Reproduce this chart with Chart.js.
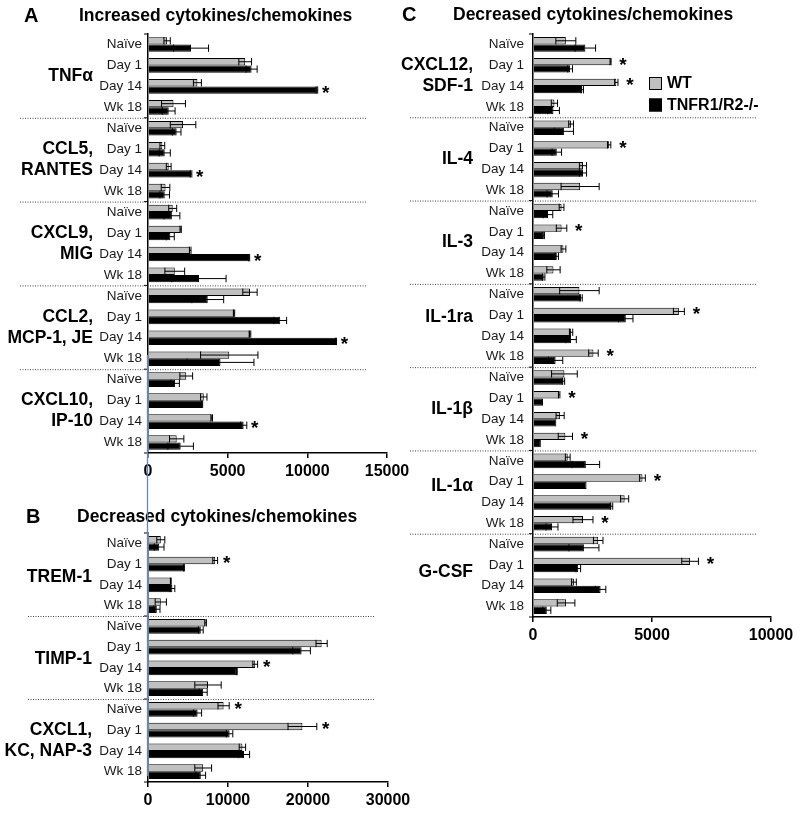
<!DOCTYPE html>
<html><head><meta charset="utf-8">
<script src="https://cdn.jsdelivr.net/npm/chart.js@4.4.1/dist/chart.umd.min.js"></script>
<style>
html,body{margin:0;padding:0;background:#fff;}
#wrap{position:relative;width:800px;height:813px;overflow:hidden;background:#fff;}
canvas{position:absolute;left:0;top:0;}
</style></head><body>
<div id="wrap">
<canvas id="cA" width="800" height="813" style="width:800px;height:813px"></canvas>
<canvas id="cB" width="800" height="813" style="width:800px;height:813px"></canvas>
<canvas id="cC" width="800" height="813" style="width:800px;height:813px"></canvas>
</div>
<script>
// ---------- data ----------
const rowLabels = ["Naïve", "Day 1", "Day 14", "Wk 18"];
const seriesNames = ["WT", "TNFR1/R2-/-"];

// Panel A: increased cytokines/chemokines
const groupsA = ["TNFα", "CCL5,\nRANTES", "CXCL9,\nMIG", "CCL2,\nMCP-1, JE", "CXCL10,\nIP-10"];
const wtA    = [1200, 6100, 3100, 1600,  2200, 900, 1300, 1100,  1550, 2050, 2650, 1680,  6400, 5400, 6400, 5100,  2400, 3500, 4000, 1800];
const wtErrA = [200, 400, 250, 750,      800, 150, 150, 270,     250, 40, 50, 620,        450, 40, 50, 1800,       400, 200, 50, 450];
const koA    = [2700, 6500, 10600, 1300, 1800, 1050, 2700, 1050, 1500, 1400, 6350, 3200,  3750, 8300, 11800, 4550, 1700, 3400, 6000, 2050];
const koErrA = [1100, 350, 50, 400,      270, 350, 50, 300,      500, 250, 30, 1700,      1000, 400, 30, 2100,     270, 30, 200, 800];
const starsA = [0,0,1,0, 0,0,1,0, 0,0,1,0, 0,0,1,0, 0,0,1,0];
const ticksA = [0, 5000, 10000, 15000];

// Panel B: decreased cytokines/chemokines
const groupsB = ["TREM-1", "TIMP-1", "CXCL1,\nKC, NAP-3"];
const wtB    = [1600, 8400, 2850, 1600,  7200, 21700, 13400, 7500,  9450, 19300, 11800, 6900];
const wtErrB = [500, 300, 50, 700,       100, 700, 300, 1650,       700, 1800, 400, 1050];
const koB    = [1400, 4500, 3050, 1100,  6600, 19200, 11100, 6900,  6200, 10200, 12000, 6600];
const koErrB = [600, 50, 300, 400,       300, 1100, 50, 500,        500, 400, 700, 600];
const starsB = [0,1,0,0, 0,0,1,0, 1,1,0,0];
const ticksB = [0, 10000, 20000, 30000];

// Panel C: decreased cytokines/chemokines
const groupsC = ["CXCL12,\nSDF-1", "IL-4", "IL-3", "IL-1ra", "IL-1β", "IL-1α", "G-CSF"];
const wtC    = [1380, 3260, 3500, 900,  1600, 3200, 2100, 1980,  1200, 1200, 1280, 860,  1950, 6130, 1600, 2540,  1320, 1100, 1140, 1360,  1460, 4600, 3850, 2100,  2740, 6600, 1720, 1390];
const wtErrC = [420, 20, 70, 130,       100, 70, 150, 800,       100, 220, 100, 280,     830, 230, 70, 200,       540, 30, 170, 300,       100, 120, 170, 420,      200, 350, 100, 370];
const koC    = [2200, 1560, 2070, 860,  1300, 1000, 2100, 830,   630, 450, 1000, 450,    2020, 3900, 1600, 950,   1280, 420, 980, 330,     2220, 2250, 3300, 800,   2140, 1900, 2840, 580];
const koErrC = [430, 100, 50, 250,      400, 200, 150, 240,      200, 30, 70, 50,        50, 300, 220, 300,       50, 0, 0, 0,             580, 0, 50, 250,         630, 100, 220, 170];
const starsC = [0,1,1,0, 0,1,0,0, 0,1,0,0, 0,1,0,1, 0,1,0,1, 0,1,0,1, 0,1,0,0];
const ticksC = [0, 5000, 10000];

// ---------- drawing ----------
const FAM = "'Liberation Sans', Arial, Helvetica, sans-serif";
Chart.defaults.font.family = FAM;
const GRAY = '#c0c0c0';

function makePanel(p) {
  const labels = [];
  p.groups.forEach(() => rowLabels.forEach(r => labels.push(r)));
  const nRows = labels.length;
  const area = p.area;

  const deco = {
    id: 'deco' + p.id,
    afterDatasetsDraw(chart) {
      const ctx = chart.ctx, xs = chart.scales.x;
      ctx.save();
      ctx.strokeStyle = '#000'; ctx.lineWidth = 1;
      chart.data.datasets.forEach((ds, di) => {
        const meta = chart.getDatasetMeta(di);
        meta.data.forEach((bar, i) => {
          const v = ds.data[i], e = ds.err[i];
          if (!e) return;
          const x1 = xs.getPixelForValue(v - e), x2 = xs.getPixelForValue(v + e);
          const y = bar.y, h = bar.height / 2;
          ctx.beginPath();
          ctx.moveTo(x1, y); ctx.lineTo(x2, y);
          ctx.moveTo(x1, y - h); ctx.lineTo(x1, y + h);
          ctx.moveTo(x2, y - h); ctx.lineTo(x2, y + h);
          ctx.stroke();
        });
      });
      ctx.restore();
    },
    afterDraw(chart) {
      const ctx = chart.ctx, xs = chart.scales.x, ca = chart.chartArea;
      const band = (ca.bottom - ca.top) / nRows;
      ctx.save();
      // separators + small axis ticks
      ctx.strokeStyle = '#000'; ctx.lineWidth = 1;
      for (let k = 0; k <= p.groups.length; k++) {
        const y = ca.top + 4 * k * band;
        ctx.setLineDash([]);
        ctx.beginPath(); ctx.moveTo(ca.left - 4, y); ctx.lineTo(ca.left, y); ctx.stroke();
        if (k > 0 && k < p.groups.length) {
          ctx.save();
          ctx.strokeStyle = '#444';
          ctx.setLineDash([1, 1.5]);
          ctx.beginPath(); ctx.moveTo(p.sepX[0], y + 0.5); ctx.lineTo(p.sepX[1], y + 0.5); ctx.stroke();
          ctx.restore();
        }
      }
      // group labels
      ctx.fillStyle = '#000';
      ctx.font = 'bold 17.5px ' + FAM;
      ctx.textAlign = 'right'; ctx.textBaseline = 'middle';
      p.groups.forEach((g, k) => {
        const cy = ca.top + (4 * k + 2) * band + (p.labelShift[k] || 0);
        const lines = g.split('\n');
        if (lines.length === 1) ctx.fillText(lines[0], p.groupX, cy);
        else {
          ctx.fillText(lines[0], p.groupX, cy - band / 2);
          ctx.fillText(lines[1], p.groupX, cy + band / 2);
        }
      });
      // stars
      ctx.font = 'bold 19px ' + FAM;
      ctx.textAlign = 'center'; ctx.textBaseline = 'alphabetic';
      p.stars.forEach((s, i) => {
        if (!s) return;
        const endW = p.wt[i] + p.wtErr[i], endK = p.ko[i] + p.koErr[i];
        const di = endW >= endK ? 0 : 1;
        const bar = chart.getDatasetMeta(di).data[i];
        const x = xs.getPixelForValue(Math.max(endW, endK)) + p.starGap;
        ctx.fillText('*', x, bar.y + 9);
      });
      // titles
      ctx.textAlign = 'left'; ctx.textBaseline = 'middle';
      ctx.font = 'bold 20px ' + FAM;
      ctx.fillText(p.letter, p.letterX, p.titleY);
      ctx.font = 'bold 17.5px ' + FAM;
      ctx.fillText(p.title, p.titleX, p.titleY);
      // legend
      if (p.legend) {
        const L = p.legend;
        ctx.font = 'bold 16px ' + FAM;
        [GRAY, '#000'].forEach((c, j) => {
          const by = L.y + j * L.dy;
          ctx.fillStyle = c; ctx.fillRect(L.x, by, 13, 13);
          ctx.strokeStyle = '#000'; ctx.lineWidth = 1;
          ctx.strokeRect(L.x + 0.5, by + 0.5, 12, 12);
          ctx.fillStyle = '#000';
          ctx.fillText(seriesNames[j], L.x + 18, by + 7);
        });
      }
      // blue guide line
      if (p.blue) {
        ctx.strokeStyle = '#6486c4'; ctx.lineWidth = 1.3;
        ctx.beginPath(); ctx.moveTo(p.blue.x, p.blue.y0); ctx.lineTo(p.blue.x, p.blue.y1); ctx.stroke();
      }
      ctx.restore();
    }
  };

  return new Chart(document.getElementById(p.id), {
    type: 'bar',
    data: {
      labels,
      datasets: [
        { label: seriesNames[0], data: p.wt, err: p.wtErr, backgroundColor: GRAY, borderColor: '#000', borderWidth: 1 },
        { label: seriesNames[1], data: p.ko, err: p.koErr, backgroundColor: '#000', borderColor: '#000', borderWidth: 1 }
      ]
    },
    options: {
      indexAxis: 'y',
      responsive: false,
      animation: false,
      devicePixelRatio: 1,
      events: [],
      layout: { padding: { left: 0, top: area.top, right: 800 - area.right, bottom: 813 - area.bottom - 30 } },
      plugins: { legend: { display: false }, tooltip: { enabled: false }, title: { display: false } },
      datasets: { bar: { categoryPercentage: 0.7, barPercentage: 1.0 } },
      scales: {
        x: {
          type: 'linear', min: 0, max: p.ticks[p.ticks.length - 1],
          afterBuildTicks(s) { s.ticks = p.ticks.map(v => ({ value: v })); },
          ticks: { color: '#000', font: { size: 16, weight: 'bold' }, padding: 4, maxRotation: 0, autoSkip: false,
                   callback: v => String(v) },
          grid: { display: true, drawOnChartArea: false, drawTicks: true, tickLength: 5, color: '#000', lineWidth: 1.5 },
          border: { display: true, color: '#000', width: 1.5 },
          afterFit(s) { s.height = 30; }
        },
        y: {
          ticks: { color: '#1a1a1a', font: { size: 13.5 }, padding: p.tickPad, autoSkip: false },
          grid: { display: false, drawTicks: false },
          border: { display: true, color: '#000', width: 1.5 },
          afterFit(s) { s.width = area.left; }
        }
      }
    },
    plugins: [deco]
  });
}

makePanel({
  id: 'cA', groups: groupsA, wt: wtA, wtErr: wtErrA, ko: koA, koErr: koErrA, stars: starsA, ticks: ticksA,
  area: { left: 148, right: 387, top: 34, bottom: 453 },
  sepX: [20, 367], groupX: 93, labelShift: [], starGap: 8, tickPad: 6,
  letter: 'A', letterX: 24, title: 'Increased cytokines/chemokines', titleX: 79, titleY: 16
});
makePanel({
  id: 'cB', groups: groupsB, wt: wtB, wtErr: wtErrB, ko: koB, koErr: koErrB, stars: starsB, ticks: ticksB,
  area: { left: 148, right: 388, top: 533, bottom: 782 },
  sepX: [28, 375], groupX: 92, labelShift: [3, 2, 0], starGap: 9, tickPad: 6,
  letter: 'B', letterX: 26, title: 'Decreased cytokines/chemokines', titleX: 77, titleY: 517,
  blue: { x: 147.5, y0: 355, y1: 776 }
});
makePanel({
  id: 'cC', groups: groupsC, wt: wtC, wtErr: wtErrC, ko: koC, koErr: koErrC, stars: starsC, ticks: ticksC,
  area: { left: 533, right: 771, top: 34, bottom: 617 },
  sepX: [410, 757], groupX: 473, labelShift: [0, 0, 0, -8, 0, -6, -3], starGap: 12, tickPad: 9,
  letter: 'C', letterX: 402, title: 'Decreased cytokines/chemokines', titleX: 453, titleY: 15,
  legend: { x: 649, y: 77, dy: 21.5 }
});
</script>
</body></html>
